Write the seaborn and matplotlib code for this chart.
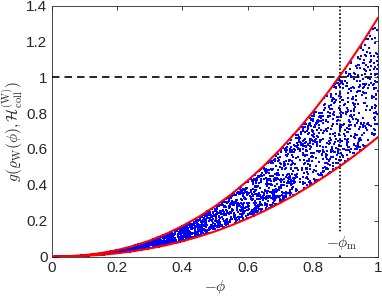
import numpy as np
import pandas as pd
import matplotlib
matplotlib.use("Agg")
import matplotlib.pyplot as plt
import seaborn as sns

# boundary curves
phi = [0.0, 0.05, 0.10, 0.15, 0.20, 0.25, 0.30, 0.35, 0.40, 0.45, 0.50,
       0.55, 0.60, 0.65, 0.70, 0.75, 0.80, 0.85, 0.90, 0.95, 1.0]
upper = [0.0, 0.002, 0.008, 0.019, 0.036, 0.059, 0.089, 0.126, 0.170, 0.221, 0.280,
         0.347, 0.423, 0.506, 0.598, 0.698, 0.807, 0.925, 1.052, 1.188, 1.333]
lower = [0.0, 0.001, 0.004, 0.009, 0.018, 0.030, 0.045, 0.063, 0.085, 0.111, 0.140,
         0.174, 0.212, 0.253, 0.299, 0.349, 0.404, 0.463, 0.526, 0.594, 0.667]
phi_m = 0.884
hline = 1.0
xticks = [0, 0.2, 0.4, 0.6, 0.8, 1]
xtick_labels = ["0", "0.2", "0.4", "0.6", "0.8", "1"]
yticks = [0, 0.2, 0.4, 0.6, 0.8, 1, 1.2, 1.4]
ytick_labels = ["0", "0.2", "0.4", "0.6", "0.8", "1", "1.2", "1.4"]

# sample cloud between the curves (random sample, as in the original)
rng = np.random.default_rng(7)
n = 3000
sx = rng.uniform(0, 1, n) ** 1.15
t = rng.uniform(0, 1, n)
lo = np.interp(sx, phi, lower)
up = np.interp(sx, phi, upper)
sy = lo + t * (up - lo)
cloud = pd.DataFrame({"x": sx, "y": sy})
curves = pd.DataFrame({"x": phi, "upper": upper, "lower": lower})

sns.set_style("white")
plt.rcParams["font.family"] = ["Liberation Sans", "DejaVu Sans"]
plt.rcParams["mathtext.fontset"] = "cm"

fig = plt.figure(figsize=(3.82, 2.98), dpi=100)
ax = fig.add_axes([0.135, 0.139, 0.855, 0.8425])

sns.scatterplot(data=cloud, x="x", y="y", ax=ax, color="blue", s=1.3,
                marker="s", linewidth=0, legend=False, zorder=2)
sns.lineplot(data=curves, x="x", y="upper", ax=ax, color="red", lw=1.5, zorder=3)
sns.lineplot(data=curves, x="x", y="lower", ax=ax, color="red", lw=1.5, zorder=3)
ax.plot([0, 1], [hline, hline], color="black", ls=(0, (4.5, 3)), lw=1.2, zorder=4)
ax.plot([phi_m, phi_m], [0, 1.4], color="black", ls=(0, (1, 1.2)), lw=1.2, zorder=4)
ax.text(phi_m + 0.005, 0.075, r"$-\phi_{\rm m}$", ha="center", va="center", fontsize=11,
        bbox=dict(facecolor="white", edgecolor="none", pad=1.5), zorder=5)

ax.set_xlim(0, 1)
ax.set_ylim(0, 1.4)
ax.set_xticks(xticks)
ax.set_xticklabels(xtick_labels)
ax.set_yticks(yticks)
ax.set_yticklabels(ytick_labels)
ax.tick_params(direction="in", length=3, width=0.6, top=True, right=True,
               labelsize=11, colors="#262626", pad=3)
for sp in ax.spines.values():
    sp.set_color("#262626")
    sp.set_linewidth(0.6)
ax.set_xlabel(r"$-\phi$", fontsize=11, labelpad=2)
ax.set_ylabel(r"$g(\varrho_{\rm W}(\phi),\mathcal{H}_{\rm coll}^{(\rm W)})$", fontsize=11, labelpad=1)

fig.savefig("out.png", dpi=100)
